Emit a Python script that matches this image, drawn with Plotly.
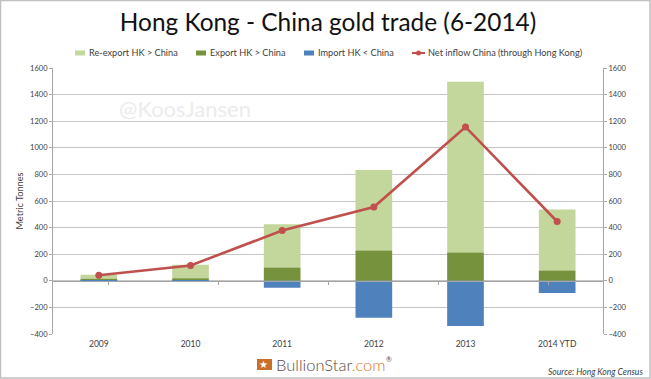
import plotly.graph_objects as go

categories = ["2009", "2010", "2011", "2012", "2013", "2014 YTD"]
reexport = [30, 100, 325, 605, 1285, 460]
export = [15, 20, 100, 228, 212, 77]
imports = [-2, -3, -52, -278, -340, -92]
net = [42, 115, 378, 555, 1157, 446]
ticks = [-400, -200, 0, 200, 400, 600, 800, 1000, 1200, 1400, 1600]
names = ["Re-export HK > China", "Export HK > China", "Import HK < China",
         "Net inflow China (through Hong Kong)"]
colors = ["#c3d69b", "#76923c", "#4f81bd", "#c0504d"]

FONT = "Lato"
W, H = 651, 379
L, R, T, B = 53, 48, 68, 45
def px(x): return (x - L) / (W - L - R)
def py(y): return (H - B - y) / (H - T - B)

fig = go.Figure()
fig.add_bar(name=names[0], x=categories, y=reexport, base=export,
            marker=dict(color=colors[0], line=dict(width=0)), offsetgroup="a")
fig.add_bar(name=names[1], x=categories, y=export,
            marker=dict(color=colors[1], line=dict(width=0)), offsetgroup="a")
fig.add_bar(name=names[2], x=categories, y=imports,
            marker=dict(color=colors[2], line=dict(width=0)), offsetgroup="a")
fig.add_scatter(name=names[3], x=categories, y=net, mode="lines+markers",
                line=dict(color=colors[3], width=2.6), marker=dict(color=colors[3], size=7))
# Invisible trace that activates the right-hand axis and the tick axis on the zero line
fig.add_scatter(x=categories, y=net, xaxis="x2", yaxis="y2", mode="lines",
                hoverinfo="skip", line=dict(width=0), opacity=0)

yaxis = dict(range=[-400, 1600], tickvals=ticks, ticks="outside", ticklen=3,
             tickcolor="#a6a6a6", linecolor="#a6a6a6", showline=True, zeroline=False,
             tickfont=dict(size=7.5, color="#404040", family=FONT))

# Legend key, laid out to sit where the reference has it
LEGEND_Y = 53
text_x = [89, 210, 318, 428]
annotations = [
    dict(text=n, xref="paper", yref="paper", x=px(x), y=py(LEGEND_Y), xanchor="left",
         yanchor="middle", showarrow=False, xshift=-2, font=dict(size=9.2, color="#404040"))
    for n, x in zip(names, text_x)
]
shapes = [
    dict(type="rect", xref="paper", yref="paper", x0=px(x - 14), x1=px(x - 4),
         y0=py(LEGEND_Y + 2.5), y1=py(LEGEND_Y - 2.5), fillcolor=c, line=dict(width=0))
    for x, c in zip(text_x[:3], colors[:3])
]
lx = text_x[3]
shapes += [
    dict(type="line", xref="paper", yref="paper", x0=px(lx - 16), x1=px(lx - 3),
         y0=py(LEGEND_Y), y1=py(LEGEND_Y), line=dict(color=colors[3], width=2)),
    dict(type="circle", xref="paper", yref="paper", x0=px(lx - 12), x1=px(lx - 7),
         y0=py(LEGEND_Y + 2.5), y1=py(LEGEND_Y - 2.5), fillcolor=colors[3], line=dict(width=0)),
]
shapes += [
    dict(type="rect", xref="paper", yref="paper", x0=px(257), x1=px(272), y0=py(370), y1=py(359),
         fillcolor="#c8702a", line=dict(width=0)),
    dict(type="rect", xref="paper", yref="paper", x0=px(0.5), x1=px(650), y0=py(378), y1=py(0.5),
         line=dict(color="#c0c0c0", width=1.5)),
]

annotations += [
    dict(text="@KoosJansen", xref="paper", yref="paper", x=px(117), y=py(108), xanchor="left",
         yanchor="middle", showarrow=False, font=dict(size=22, color="#ececec")),
    dict(text="<i>Source: Hong Kong Census</i>", xref="paper", yref="paper", x=px(645), y=py(372),
         xanchor="right", yanchor="middle", showarrow=False, font=dict(size=8.6, color="#404040")),
    dict(text="BullionStar<span style='color:#d9782d'>.com</span>",
         xref="paper", yref="paper", x=px(274), y=py(365), xanchor="left", yanchor="middle",
         showarrow=False, font=dict(size=16.5, color="#5b4a3f", weight=300)),
    dict(text="®", xref="paper", yref="paper", x=px(389), y=py(359), xanchor="center",
         yanchor="middle", showarrow=False, font=dict(size=7, color="#5b4a3f")),
    dict(text="★", xref="paper", yref="paper", x=px(263), y=py(364.5), xanchor="center",
         yanchor="middle", showarrow=False, font=dict(size=10, color="white", family="DejaVu Sans")),
]

fig.update_layout(
    width=W, height=H, paper_bgcolor="white", plot_bgcolor="white",
    barmode="overlay", bargap=0.6, margin=dict(l=L, r=R, t=T, b=B),
    font=dict(family=FONT, color="#262626"), showlegend=False,
    title=dict(text="Hong Kong - China gold trade (6-2014)", x=328 / W, xanchor="center",
               y=1 - 22 / H, yanchor="middle", font=dict(size=24.4, color="#111111", family=FONT)),
    xaxis=dict(type="category", showline=False, ticks="", ticklabelstandoff=3,
               tickfont=dict(size=8.5, color="#404040"), showgrid=False),
    xaxis2=dict(type="category", overlaying="x", anchor="free", position=0.2, showline=True,
                linecolor="#a6a6a6", ticks="outside", tickson="boundaries", ticklen=3,
                tickcolor="#a6a6a6", showticklabels=False, showgrid=False),
    yaxis=dict(**yaxis, showgrid=True, gridcolor="#c4c4c4", gridwidth=1,
               title=dict(text="Metric Tonnes", standoff=4, font=dict(size=9.2, color="#404040"))),
    yaxis2=dict(**yaxis, overlaying="y", side="right", showgrid=False),
    annotations=annotations,
    shapes=shapes,
)
fig.write_html("out.html", config=dict(displayModeBar=False),
               post_script="document.body.style.margin='0';document.body.style.overflow='hidden';")
